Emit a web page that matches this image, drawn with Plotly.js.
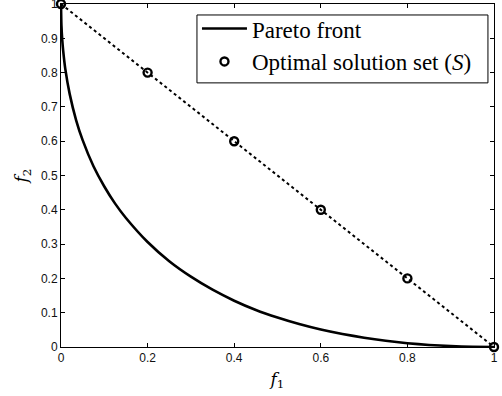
<!DOCTYPE html>
<html>
<head>
<meta charset="utf-8">
<script src="https://cdn.plot.ly/plotly-3.0.1.min.js"></script>
<style>
  html, body { margin: 0; padding: 0; background: #fff; }
  #plot { width: 502px; height: 396px; }
</style>
</head>
<body>
<div id="plot"></div>
<script>
// Pareto front (f1, f2) samples
const frontF1 = [0, 0.001, 0.003, 0.005, 0.01, 0.02, 0.035, 0.05, 0.075, 0.1, 0.125, 0.15, 0.2, 0.25, 0.3, 0.35, 0.4, 0.45, 0.5, 0.55, 0.6, 0.65, 0.7, 0.75, 0.8, 0.85, 0.9, 0.95, 1];
const frontF2 = [1, 0.938, 0.893, 0.864, 0.81, 0.738, 0.661, 0.603, 0.527, 0.468, 0.418, 0.376, 0.306, 0.25, 0.205, 0.167, 0.135, 0.108, 0.086, 0.067, 0.051, 0.038, 0.027, 0.018, 0.011, 0.006, 0.0027, 0.0006, 0];

// Optimal solution set S
const solF1 = [0, 0.2, 0.4, 0.6, 0.8, 1];
const solF2 = [1, 0.8, 0.6, 0.4, 0.2, 0];

const xTicks = [0, 0.2, 0.4, 0.6, 0.8, 1];
const yTicks = [0, 0.1, 0.2, 0.3, 0.4, 0.5, 0.6, 0.7, 0.8, 0.9, 1];

const traces = [
  {
    x: frontF1, y: frontF2, type: 'scatter', mode: 'lines',
    name: 'Pareto front',
    line: { color: '#000', width: 2.6, shape: 'spline', smoothing: 0.6 }
  },
  {
    x: solF1, y: solF2, type: 'scatter', mode: 'lines',
    showlegend: false, hoverinfo: 'skip',
    line: { color: '#000', width: 2, dash: 'dot' }
  },
  {
    x: solF1, y: solF2, type: 'scatter', mode: 'markers',
    name: 'Optimal solution set (<i>S</i>)',
    cliponaxis: false,
    marker: { symbol: 'circle-open', size: 8, color: '#000', line: { width: 2.4, color: '#000' } }
  }
];

const axisCommon = {
  showgrid: false, zeroline: false,
  showline: true, linecolor: '#000', linewidth: 1, mirror: 'ticks',
  ticks: 'inside', ticklen: 4, tickwidth: 1, tickcolor: '#000',
  ticklabeloverflow: 'allow',
  tickfont: { family: 'Liberation Sans, Arial, sans-serif', size: 12, color: '#111' }
};

const layout = {
  width: 502, height: 396,
  margin: { l: 61, r: 8, t: 4, b: 49 },
  paper_bgcolor: '#fff', plot_bgcolor: '#fff',
  showlegend: true,
  xaxis: Object.assign({}, axisCommon, {
    range: [0, 1], tickvals: xTicks, ticktext: xTicks.map(String),
    title: { text: '<i>f</i><sub>1</sub>', standoff: 8,
             font: { family: 'DejaVu Serif, serif', size: 17, color: '#000' } }
  }),
  yaxis: Object.assign({}, axisCommon, {
    range: [0, 1], tickvals: yTicks, ticktext: yTicks.map(String),
    title: { text: '<i>f</i><sub>2</sub>', standoff: 8,
             font: { family: 'DejaVu Serif, serif', size: 17, color: '#000' } }
  }),
  // compact framed box behind the legend entries
  shapes: [{
    type: 'rect', xref: 'paper', yref: 'paper', layer: 'above',
    x0: 0.314, x1: 0.986, y0: 0.77, y1: 0.968,
    fillcolor: '#fff', line: { color: '#000', width: 1 }
  }],
  legend: {
    x: 0.314, y: 0.991, xanchor: 'left', yanchor: 'top',
    bgcolor: 'rgba(0,0,0,0)', borderwidth: 0,
    font: { family: 'Liberation Serif, serif', size: 23, color: '#000' },
    itemwidth: 45
  }
};

Plotly.newPlot('plot', traces, layout, { staticPlot: true, displayModeBar: false });
</script>
</body>
</html>
